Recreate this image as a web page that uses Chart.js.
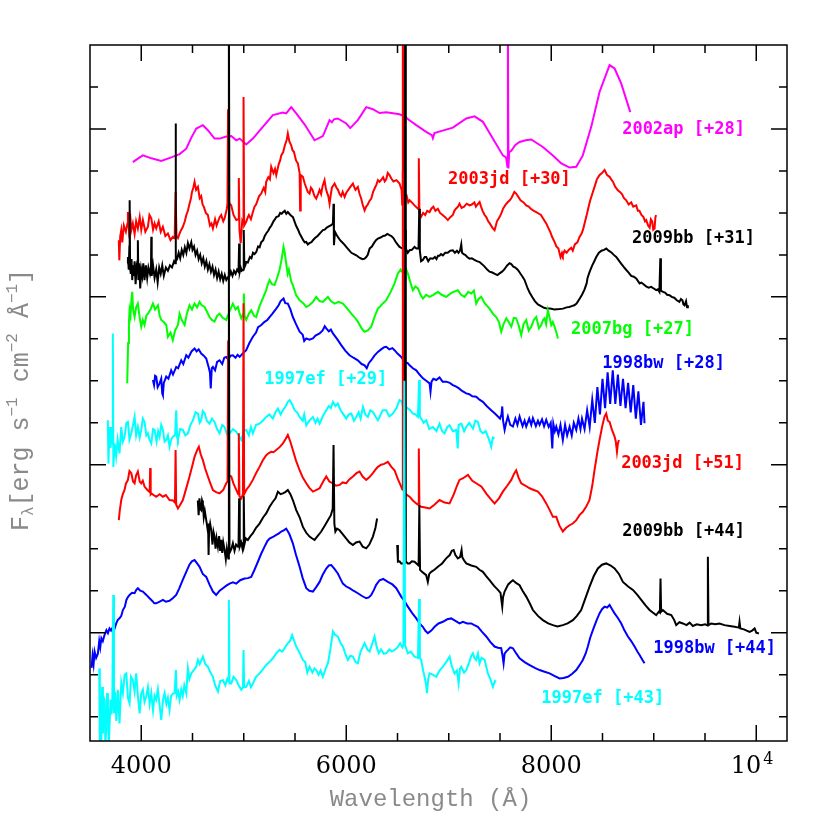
<!DOCTYPE html>
<html>
<head>
<meta charset="utf-8">
<script src="https://cdn.jsdelivr.net/npm/chart.js@4.4.1/dist/chart.umd.min.js"></script>
<style>
  html, body { margin: 0; padding: 0; background: #fff; }
  #wrap { width: 830px; height: 830px; }
</style>
</head>
<body>
<div id="wrap"><canvas id="spectra" width="830" height="830"></canvas></div>
<script>
// wavelength (A), flux (arbitrary units, offsets included)
const sn2002ap_28 = [[3918,11.21],[3970,11.30],[4016,11.37],[4100,11.30],[4195,11.24],[4300,11.33],[4374,11.40],[4439,11.53],[4490,11.80],[4537,12.01],[4601,12.09],[4650,11.97],[4715,11.77],[4764,11.77],[4830,11.82],[4878,11.83],[4927,11.73],[4960,11.77],[5024,11.63],[5089,11.77],[5186,12.05],[5284,12.33],[5381,12.39],[5414,12.37],[5463,12.52],[5512,12.37],[5593,12.11],[5691,11.73],[5772,11.83],[5837,12.21],[5860,12.16],[5880,12.23],[5918,12.25],[6000,12.13],[6039,12.02],[6113,12.21],[6195,12.52],[6260,12.47],[6325,12.38],[6390,12.40],[6520,12.35],[6569,12.30],[6620,12.20],[6683,12.09],[6780,11.93],[6835,11.85],[6845,11.78],[6860,11.90],[6940,11.96],[7040,12.03],[7171,12.25],[7252,12.30],[7333,12.17],[7430,11.77],[7528,11.37],[7560,11.32],[7572,11.10],[7577,14.5],[7582,11.06],[7590,11.45],[7610,11.48],[7650,11.62],[7691,11.69],[7750,11.73],[7805,11.75],[7918,11.57],[8016,11.37],[8098,11.18],[8179,11.08],[8244,11.10],[8308,11.37],[8390,12.05],[8471,12.88],[8569,13.52],[8618,13.44],[8683,13.08],[8771,12.40]];

const sn2003jd_30 = [[3781,9.35],[3786,8.87],[3795,9.45],[3805,9.59],[3815,9.30],[3830,9.70],[3850,9.55],[3865,9.75],[3870,10.02],[3880,9.60],[3895,9.85],[3903,9.59],[3918,9.75],[3935,9.50],[3950,9.80],[3967,9.63],[3985,9.90],[4000,9.60],[4016,9.83],[4040,9.55],[4065,9.67],[4080,9.95],[4098,9.87],[4115,9.60],[4130,9.75],[4146,9.63],[4170,9.80],[4190,9.55],[4211,9.67],[4235,9.45],[4260,9.51],[4285,9.35],[4308,9.43],[4326,9.40],[4335,10.50],[4344,9.45],[4358,9.40],[4380,9.55],[4406,9.67],[4425,9.80],[4440,9.95],[4455,10.05],[4471,10.22],[4485,10.35],[4495,10.50],[4508,10.60],[4520,10.74],[4535,10.55],[4553,10.62],[4570,10.35],[4585,10.40],[4598,10.20],[4610,10.15],[4630,10.00],[4650,9.95],[4670,9.70],[4685,9.75],[4699,9.63],[4720,9.85],[4735,9.70],[4748,9.79],[4765,9.90],[4780,9.95],[4800,9.80],[4813,9.87],[4835,10.10],[4841,10.22],[4847,12.47],[4853,10.25],[4878,10.18],[4900,9.95],[4927,9.83],[4946,9.85],[4952,10.83],[4958,9.60],[4970,9.28],[4985,9.80],[4993,9.75],[4998,12.76],[5004,9.70],[5024,9.79],[5040,9.90],[5050,9.95],[5070,9.85],[5089,10.02],[5105,10.15],[5120,10.20],[5135,10.30],[5150,10.40],[5171,10.46],[5185,10.55],[5195,10.60],[5210,10.50],[5219,10.74],[5240,10.85],[5255,10.80],[5268,11.10],[5290,10.95],[5305,11.05],[5317,10.90],[5340,11.15],[5355,11.25],[5366,11.37],[5385,11.45],[5400,11.60],[5420,11.75],[5430,11.89],[5445,11.70],[5463,11.61],[5475,11.50],[5490,11.45],[5510,11.25],[5528,11.18],[5545,10.95],[5550,10.06],[5556,10.90],[5577,10.86],[5595,10.70],[5610,10.60],[5625,10.50],[5642,10.46],[5655,10.60],[5670,10.55],[5690,10.40],[5707,10.34],[5725,10.45],[5740,10.55],[5755,10.45],[5770,10.65],[5788,10.78],[5800,10.60],[5810,10.50],[5825,10.40],[5837,10.22],[5850,10.45],[5860,10.60],[5886,10.70],[5905,10.60],[5920,10.55],[5935,10.45],[5950,10.40],[5965,10.50],[5984,10.38],[6000,10.48],[6020,10.55],[6040,10.62],[6065,10.70],[6080,10.60],[6090,10.55],[6113,10.62],[6130,10.45],[6145,10.35],[6160,10.20],[6179,10.06],[6195,10.15],[6210,10.20],[6225,10.28],[6244,10.34],[6262,10.50],[6280,10.60],[6295,10.68],[6309,10.78],[6325,10.74],[6345,10.80],[6360,10.85],[6375,10.75],[6390,10.80],[6405,10.95],[6422,10.90],[6440,10.82],[6460,10.75],[6490,10.78],[6520,10.70],[6540,10.55],[6546,10.20],[6552,15],[6558,10.30],[6575,10.35],[6590,10.40],[6605,10.25],[6618,10.30],[6640,10.25],[6666,10.18],[6700,10.10],[6708,11.30],[6714,10.00],[6731,9.91],[6750,10.00],[6770,9.95],[6790,10.05],[6813,10.02],[6830,10.10],[6850,10.15],[6870,10.05],[6894,10.10],[6915,10.00],[6940,9.95],[6965,9.90],[6991,9.83],[7015,9.90],[7040,9.95],[7055,10.05],[7070,10.10],[7090,10.15],[7105,10.22],[7125,10.12],[7150,10.15],[7175,10.22],[7203,10.18],[7225,10.20],[7250,10.25],[7265,10.15],[7280,10.20],[7301,10.26],[7315,10.15],[7330,10.05],[7350,9.95],[7366,9.90],[7385,9.80],[7400,9.75],[7425,9.65],[7447,9.59],[7460,9.70],[7470,9.80],[7496,9.90],[7515,10.00],[7530,10.10],[7555,10.20],[7577,10.26],[7595,10.30],[7610,10.35],[7625,10.42],[7640,10.50],[7658,10.46],[7680,10.38],[7700,10.30],[7730,10.25],[7756,10.18],[7780,10.15],[7800,10.10],[7830,10.05],[7854,10.02],[7880,9.98],[7900,9.95],[7925,9.85],[7951,9.75],[7970,9.65],[7990,9.55],[8010,9.42],[8032,9.31],[8050,9.20],[8070,9.15],[8090,8.95],[8105,9.05],[8113,8.99],[8130,9.10],[8150,9.05],[8170,9.12],[8195,9.17],[8210,9.10],[8230,9.25],[8255,9.30],[8276,9.43],[8295,9.50],[8310,9.60],[8325,9.75],[8341,9.90],[8360,10.10],[8380,10.30],[8400,10.45],[8422,10.62],[8445,10.80],[8470,10.90],[8495,10.95],[8520,11.02],[8535,10.95],[8545,10.90],[8569,10.86],[8585,10.80],[8600,10.75],[8625,10.62],[8650,10.54],[8670,10.50],[8690,10.45],[8710,10.35],[8732,10.30],[8755,10.20],[8780,10.25],[8800,10.15],[8829,10.18],[8845,10.05],[8860,10.05],[8880,9.95],[8900,9.90],[8915,9.80],[8927,9.83],[8945,9.70],[8960,9.65],[8972,9.85],[8985,9.80],[8995,9.60],[9008,9.63],[9016,9.90],[9024,9.95]];

const sn2009bb_31 = [[3863,8.80],[3870,8.95],[3878,8.65],[3884,9.20],[3887,10.30],[3891,8.70],[3898,8.55],[3905,8.90],[3912,8.40],[3920,8.75],[3928,8.50],[3935,8.85],[3945,8.30],[3955,8.70],[3963,8.60],[3967,9.35],[3972,8.40],[3980,8.80],[3990,8.20],[4000,8.65],[4010,8.50],[4020,8.80],[4032,8.40],[4045,8.75],[4058,8.45],[4070,8.70],[4085,8.55],[4095,8.70],[4098,9.43],[4102,8.50],[4115,8.75],[4130,8.45],[4146,8.65],[4160,8.35],[4175,8.70],[4190,8.55],[4205,8.75],[4220,8.50],[4240,8.70],[4260,8.62],[4280,8.75],[4300,8.70],[4320,8.85],[4331,8.80],[4335,12.13],[4339,8.85],[4350,8.90],[4365,9.05],[4380,8.92],[4395,9.12],[4410,9.00],[4425,9.18],[4440,9.05],[4455,9.28],[4470,9.15],[4488,9.30],[4500,9.12],[4515,9.20],[4530,9.00],[4545,9.10],[4560,8.90],[4575,9.00],[4590,8.80],[4605,8.92],[4620,8.72],[4635,8.85],[4650,8.65],[4665,8.78],[4680,8.60],[4695,8.72],[4710,8.52],[4725,8.65],[4740,8.45],[4755,8.60],[4770,8.42],[4785,8.55],[4800,8.38],[4815,8.52],[4830,8.40],[4849,8.48],[4855,15],[4861,8.50],[4875,8.60],[4890,8.50],[4905,8.62],[4920,8.55],[4935,8.65],[4949,8.60],[4955,9.27],[4961,8.60],[4970,8.70],[4980,8.62],[4994,8.65],[5000,9.59],[5006,8.70],[5015,8.75],[5024,8.83],[5040,8.82],[5060,8.95],[5075,8.92],[5090,9.05],[5105,9.02],[5122,9.07],[5140,9.20],[5155,9.18],[5170,9.30],[5190,9.35],[5205,9.45],[5219,9.51],[5240,9.58],[5255,9.65],[5270,9.70],[5290,9.80],[5305,9.85],[5317,9.90],[5340,9.92],[5355,10.00],[5370,9.98],[5385,10.02],[5400,10.05],[5415,9.98],[5430,10.02],[5455,9.95],[5480,9.90],[5495,9.80],[5510,9.70],[5530,9.60],[5545,9.51],[5565,9.42],[5580,9.35],[5595,9.30],[5610,9.31],[5625,9.25],[5640,9.28],[5660,9.30],[5675,9.35],[5695,9.40],[5720,9.45],[5745,9.52],[5772,9.59],[5790,9.60],[5810,9.65],[5830,9.68],[5853,9.71],[5870,9.75],[5876,10.22],[5880,9.23],[5890,9.55],[5905,9.48],[5918,9.43],[5940,9.35],[5960,9.30],[5980,9.25],[6000,9.19],[6025,9.12],[6050,9.05],[6075,9.02],[6098,8.99],[6120,8.95],[6140,8.92],[6160,8.90],[6179,8.91],[6195,8.95],[6210,9.00],[6228,9.15],[6250,9.20],[6270,9.28],[6290,9.35],[6309,9.39],[6340,9.42],[6360,9.45],[6380,9.46],[6400,9.50],[6422,9.47],[6440,9.45],[6460,9.40],[6480,9.32],[6500,9.25],[6520,9.19],[6550,9.15],[6569,9.15],[6575,15],[6581,9.15],[6600,9.05],[6618,9.11],[6640,9.12],[6666,9.19],[6685,9.15],[6705,9.15],[6712,10.10],[6718,9.10],[6730,8.85],[6747,8.88],[6765,8.95],[6780,8.95],[6800,8.85],[6820,8.92],[6845,8.91],[6865,8.95],[6880,8.90],[6895,8.98],[6910,8.98],[6925,9.02],[6943,8.99],[6965,9.05],[6990,9.05],[7015,9.10],[7040,9.11],[7060,9.05],[7080,9.10],[7095,9.05],[7110,9.10],[7122,9.25],[7130,9.05],[7145,9.02],[7160,9.00],[7180,8.95],[7203,8.91],[7225,8.92],[7250,8.88],[7275,8.85],[7301,8.83],[7325,8.78],[7350,8.72],[7375,8.65],[7398,8.60],[7425,8.58],[7450,8.55],[7475,8.52],[7496,8.56],[7520,8.60],[7540,8.65],[7555,8.70],[7570,8.75],[7593,8.80],[7610,8.78],[7630,8.72],[7650,8.70],[7675,8.64],[7700,8.55],[7720,8.48],[7740,8.40],[7755,8.30],[7770,8.20],[7790,8.10],[7816,7.99],[7840,7.90],[7870,7.82],[7900,7.78],[7930,7.74],[7960,7.72],[7990,7.72],[8030,7.70],[8081,7.71],[8115,7.72],[8150,7.75],[8175,7.76],[8200,7.78],[8225,7.80],[8247,7.84],[8275,7.95],[8300,8.05],[8325,8.18],[8345,8.32],[8354,8.45],[8375,8.60],[8400,8.75],[8420,8.85],[8439,8.95],[8465,9.05],[8490,9.10],[8515,9.12],[8537,9.15],[8560,9.10],[8590,9.05],[8610,9.00],[8634,8.95],[8655,8.88],[8680,8.80],[8705,8.72],[8732,8.64],[8755,8.58],[8780,8.50],[8805,8.48],[8829,8.44],[8845,8.38],[8862,8.32],[8880,8.34],[8900,8.30],[8925,8.25],[8950,8.22],[8975,8.24],[9000,8.20],[9024,8.16],[9040,8.18],[9055,8.12],[9064,8.92],[9070,8.15],[9090,8.12],[9110,8.10],[9130,8.05],[9154,8.04],[9175,8.00],[9200,7.98],[9225,7.92],[9250,7.88],[9265,7.95],[9280,7.92],[9290,7.82],[9300,7.80],[9315,7.90],[9325,7.75],[9333,7.80]];

const sn2007bg_27 = [[3863,5.94],[3872,6.90],[3880,7.40],[3886,7.68],[3895,7.55],[3905,7.95],[3912,8.12],[3920,7.70],[3935,7.52],[3950,7.75],[3967,7.84],[3985,7.50],[4000,7.29],[4015,7.45],[4032,7.33],[4050,7.55],[4065,7.60],[4090,7.70],[4114,7.84],[4135,7.70],[4163,7.80],[4180,7.55],[4195,7.45],[4220,7.40],[4244,7.33],[4260,7.05],[4285,7.15],[4308,6.97],[4330,7.20],[4358,7.33],[4374,7.60],[4395,7.45],[4423,7.33],[4445,7.60],[4471,7.80],[4495,7.70],[4520,7.84],[4545,7.75],[4569,7.88],[4590,7.80],[4618,7.76],[4640,7.65],[4666,7.52],[4690,7.45],[4715,7.41],[4740,7.55],[4764,7.60],[4795,7.50],[4829,7.45],[4860,7.65],[4894,7.84],[4920,7.70],[4943,7.76],[4960,7.60],[4976,7.49],[4995,7.60],[5001,8.08],[5008,7.55],[5024,7.45],[5050,7.60],[5073,7.68],[5100,7.55],[5122,7.52],[5150,7.75],[5171,7.88],[5200,8.05],[5219,8.16],[5235,8.30],[5252,8.40],[5275,8.30],[5301,8.28],[5325,8.45],[5349,8.64],[5370,8.90],[5388,9.19],[5400,9.05],[5414,8.80],[5428,8.55],[5440,8.65],[5463,8.37],[5479,8.28],[5510,8.05],[5545,7.92],[5580,7.85],[5610,7.76],[5640,7.80],[5675,7.88],[5707,8.00],[5740,7.90],[5772,7.88],[5800,7.95],[5821,8.00],[5850,7.90],[5886,7.84],[5925,7.88],[5967,7.84],[6010,7.72],[6049,7.60],[6080,7.52],[6113,7.41],[6150,7.25],[6179,7.17],[6210,7.20],[6244,7.29],[6280,7.55],[6309,7.72],[6325,7.76],[6360,7.85],[6390,7.92],[6430,8.10],[6471,8.32],[6504,8.56],[6530,8.65],[6560,8.55],[6585,8.65],[6601,8.56],[6625,8.35],[6650,8.16],[6675,8.25],[6699,8.20],[6725,8.05],[6748,7.96],[6780,8.05],[6813,8.00],[6850,8.05],[6894,8.12],[6930,8.05],[6975,8.00],[7030,8.10],[7089,8.16],[7120,8.05],[7154,8.00],[7190,8.12],[7219,8.08],[7245,8.15],[7268,7.84],[7290,7.95],[7317,8.00],[7350,7.85],[7398,7.72],[7430,7.60],[7463,7.52],[7490,7.40],[7512,7.17],[7535,7.35],[7561,7.49],[7585,7.40],[7610,7.29],[7635,7.50],[7658,7.49],[7685,7.30],[7707,7.09],[7730,7.35],[7756,7.45],[7780,7.20],[7805,7.29],[7830,7.45],[7854,7.52],[7880,7.25],[7902,7.33],[7920,7.45],[7935,7.49],[7950,7.35],[7967,7.68],[7985,7.50],[8000,7.33],[8015,7.40],[8032,7.29],[8050,7.15],[8065,7.01]];

const sn1998bw_28 = [[4114,6.02],[4125,5.90],[4135,6.12],[4146,6.10],[4160,5.85],[4179,5.94],[4195,6.05],[4205,5.70],[4211,5.66],[4220,5.95],[4244,6.10],[4265,6.05],[4292,6.25],[4310,6.15],[4341,6.33],[4360,6.30],[4390,6.49],[4410,6.40],[4439,6.61],[4460,6.55],[4490,6.70],[4520,6.77],[4540,6.70],[4560,6.75],[4585,6.65],[4610,6.60],[4634,6.53],[4655,6.35],[4670,6.20],[4678,5.82],[4688,6.30],[4699,6.33],[4720,6.25],[4740,6.45],[4764,6.49],[4790,6.40],[4810,6.55],[4829,6.57],[4850,6.50],[4870,6.60],[4894,6.61],[4920,6.55],[4940,6.62],[4960,6.57],[4990,6.65],[5024,6.73],[5055,6.90],[5089,7.05],[5120,7.15],[5140,7.28],[5171,7.33],[5200,7.40],[5230,7.45],[5252,7.52],[5280,7.60],[5317,7.72],[5340,7.80],[5360,7.90],[5388,7.96],[5405,7.85],[5430,7.84],[5455,7.70],[5479,7.52],[5510,7.35],[5545,7.17],[5575,7.10],[5590,6.95],[5610,7.01],[5640,6.98],[5675,7.01],[5700,7.08],[5740,7.13],[5770,7.20],[5790,7.30],[5805,7.25],[5830,7.18],[5850,7.22],[5870,7.13],[5910,7.00],[5951,6.85],[5990,6.72],[6032,6.61],[6070,6.55],[6113,6.49],[6150,6.40],[6179,6.37],[6200,6.30],[6220,6.42],[6244,6.49],[6275,6.60],[6309,6.69],[6340,6.75],[6370,6.80],[6390,6.81],[6420,6.75],[6450,6.78],[6471,6.73],[6500,6.65],[6536,6.57],[6570,6.45],[6600,6.42],[6618,6.37],[6650,6.30],[6683,6.25],[6715,6.15],[6748,6.06],[6780,6.00],[6813,5.94],[6822,5.74],[6832,5.98],[6850,6.05],[6878,6.02],[6910,6.08],[6940,5.98],[6975,5.98],[7010,5.95],[7040,5.90],[7073,5.86],[7100,5.82],[7130,5.76],[7171,5.70],[7200,5.68],[7230,5.63],[7268,5.62],[7300,5.55],[7333,5.50],[7370,5.40],[7414,5.30],[7450,5.22],[7480,5.15],[7500,5.10],[7515,5.20],[7522,5.39],[7530,5.05],[7545,4.83],[7560,5.00],[7577,5.15],[7600,4.95],[7626,4.91],[7650,5.10],[7670,4.95],[7691,5.15],[7720,4.92],[7740,5.05],[7756,4.91],[7785,5.10],[7805,4.95],[7821,5.11],[7850,4.92],[7870,5.05],[7886,4.95],[7910,5.08],[7930,4.92],[7951,5.07],[7975,4.90],[7995,5.00],[8010,4.39],[8020,4.98],[8035,4.80],[8049,4.91],[8070,4.72],[8090,4.95],[8113,4.59],[8135,4.95],[8155,4.70],[8179,4.91],[8200,4.70],[8220,5.00],[8244,4.83],[8265,5.10],[8285,4.85],[8300,5.10],[8325,4.85],[8350,5.30],[8375,4.90],[8400,5.55],[8425,5.00],[8450,5.85],[8475,5.20],[8500,6.05],[8525,5.35],[8550,6.20],[8575,5.45],[8600,6.25],[8625,5.45],[8650,6.15],[8675,5.40],[8700,6.05],[8725,5.35],[8750,5.95],[8775,5.25],[8800,5.90],[8825,5.10],[8850,5.75],[8875,4.95],[8900,5.50],[8910,4.99]];

const sn1997ef_29 = [[3674,5.06],[3680,4.03],[3690,4.90],[3700,4.40],[3710,4.90],[3718,4.50],[3723,7.13],[3728,3.95],[3740,4.51],[3755,4.20],[3770,4.60],[3788,4.27],[3805,4.90],[3820,4.55],[3837,4.66],[3855,5.00],[3870,5.02],[3885,4.60],[3903,4.75],[3920,4.95],[3935,5.14],[3950,4.70],[3967,4.90],[3985,4.65],[4000,4.83],[4015,5.10],[4032,5.02],[4050,4.70],[4065,4.75],[4080,4.60],[4098,4.51],[4115,4.85],[4130,4.83],[4150,4.55],[4165,4.80],[4179,4.67],[4195,4.95],[4211,4.83],[4228,4.55],[4244,4.59],[4260,4.70],[4276,4.43],[4292,4.60],[4308,4.67],[4330,4.70],[4341,5.30],[4350,4.65],[4358,4.59],[4380,4.85],[4406,4.83],[4430,4.70],[4455,4.75],[4480,4.95],[4504,5.06],[4530,5.25],[4553,5.22],[4570,5.00],[4585,5.06],[4600,5.28],[4618,5.22],[4640,5.05],[4666,4.98],[4690,5.10],[4715,5.02],[4740,4.85],[4764,4.75],[4790,4.95],[4813,4.90],[4840,4.70],[4862,4.75],[4895,4.85],[4927,4.79],[4950,4.70],[4976,4.59],[5000,4.80],[5024,4.83],[5050,4.70],[5070,4.90],[5089,4.75],[5120,4.95],[5154,4.98],[5185,5.05],[5219,5.14],[5250,5.20],[5284,5.10],[5310,5.25],[5333,5.34],[5360,5.20],[5382,5.30],[5410,5.40],[5430,5.50],[5447,5.54],[5470,5.45],[5496,5.30],[5520,5.25],[5545,5.14],[5575,5.05],[5590,5.20],[5610,4.94],[5640,5.05],[5675,5.14],[5700,5.00],[5720,5.10],[5740,4.98],[5770,5.15],[5805,5.30],[5830,5.40],[5850,5.35],[5870,5.50],[5895,5.40],[5918,5.46],[5945,5.30],[5967,5.22],[6000,5.10],[6025,5.20],[6049,5.22],[6075,5.05],[6098,5.14],[6120,5.25],[6140,5.10],[6163,5.38],[6185,5.20],[6211,5.14],[6235,5.30],[6260,5.26],[6285,5.15],[6309,5.06],[6325,5.14],[6355,5.30],[6390,5.30],[6420,5.15],[6455,5.22],[6490,5.35],[6520,5.54],[6545,5.50],[6558,5.30],[6566,7.2],[6574,5.40],[6601,5.34],[6625,5.30],[6650,5.22],[6675,5.20],[6699,5.14],[6711,6.02],[6718,5.15],[6731,5.10],[6755,5.00],[6780,5.06],[6810,4.85],[6845,4.90],[6880,4.80],[6910,4.98],[6935,4.80],[6959,4.75],[6985,4.90],[7008,4.94],[7040,4.80],[7073,4.83],[7088,4.39],[7096,4.95],[7122,4.98],[7150,4.80],[7171,4.90],[7200,5.00],[7236,4.86],[7260,5.05],[7284,5.02],[7310,4.80],[7333,4.75],[7360,4.80],[7382,4.67],[7400,4.55],[7414,4.43],[7430,4.65],[7447,4.63]];

const sn2003jd_51 = [[3781,2.68],[3790,2.90],[3805,3.16],[3820,3.30],[3837,3.40],[3850,3.55],[3870,3.64],[3885,3.85],[3903,3.80],[3920,3.60],[3935,3.56],[3950,3.75],[3967,3.84],[3985,3.60],[4000,3.56],[4015,3.62],[4032,3.48],[4060,3.40],[4082,3.35],[4087,3.92],[4092,3.30],[4098,3.32],[4120,3.28],[4146,3.24],[4180,3.30],[4211,3.24],[4240,3.28],[4276,3.16],[4310,3.15],[4329,3.10],[4335,4.35],[4341,3.05],[4358,2.96],[4380,3.05],[4406,3.16],[4440,3.45],[4471,3.72],[4495,3.95],[4520,4.19],[4545,4.35],[4562,4.43],[4580,4.25],[4601,4.11],[4625,3.90],[4650,3.72],[4675,3.55],[4699,3.40],[4730,3.35],[4764,3.32],[4800,3.40],[4829,3.56],[4842,3.60],[4848,6.96],[4854,3.75],[4878,3.72],[4900,3.55],[4927,3.40],[4946,3.30],[4952,4.75],[4958,3.25],[4976,3.20],[4992,3.30],[4998,7.85],[5004,3.30],[5024,3.40],[5055,3.50],[5089,3.64],[5120,3.80],[5154,3.95],[5185,4.10],[5219,4.23],[5245,4.28],[5268,4.31],[5290,4.30],[5317,4.35],[5350,4.42],[5382,4.51],[5410,4.62],[5430,4.71],[5455,4.55],[5479,4.35],[5510,4.10],[5545,3.87],[5575,3.70],[5610,3.56],[5640,3.45],[5675,3.36],[5710,3.40],[5740,3.44],[5775,3.60],[5805,3.72],[5835,3.60],[5870,3.56],[5900,3.50],[5935,3.52],[5965,3.58],[6000,3.56],[6030,3.65],[6065,3.72],[6100,3.80],[6130,3.84],[6160,3.72],[6195,3.64],[6225,3.70],[6260,3.80],[6290,3.90],[6309,3.95],[6340,4.00],[6370,4.02],[6406,4.07],[6440,3.95],[6471,3.87],[6505,3.65],[6536,3.48],[6546,3.42],[6552,11.0],[6558,3.38],[6580,3.30],[6618,3.24],[6650,3.15],[6683,3.08],[6702,3.05],[6708,4.39],[6714,3.02],[6731,3.00],[6770,2.98],[6813,2.96],[6860,3.05],[6910,3.16],[6960,3.10],[7008,3.08],[7050,3.30],[7080,3.50],[7105,3.64],[7140,3.68],[7187,3.76],[7230,3.62],[7268,3.56],[7320,3.48],[7370,3.30],[7410,3.18],[7447,3.08],[7490,3.20],[7528,3.36],[7570,3.50],[7610,3.64],[7640,3.80],[7658,3.87],[7680,3.70],[7707,3.56],[7750,3.50],[7789,3.44],[7830,3.40],[7870,3.36],[7910,3.25],[7951,3.08],[7985,2.92],[8016,2.76],[8049,2.76],[8080,2.55],[8113,2.41],[8145,2.50],[8179,2.56],[8210,2.60],[8244,2.68],[8275,2.80],[8308,2.88],[8340,3.00],[8357,3.08],[8373,3.16],[8400,3.50],[8422,3.87],[8450,4.30],[8471,4.59],[8500,4.95],[8520,5.15],[8536,5.22],[8552,5.05],[8569,5.02],[8590,4.85],[8618,4.67],[8630,4.55],[8641,4.31],[8650,4.50],[8660,4.59]];

const sn2009bb_44 = [[4552,3.15],[4560,2.80],[4568,3.20],[4575,2.95],[4585,2.92],[4593,3.15],[4601,3.08],[4610,2.75],[4620,2.90],[4634,2.68],[4645,2.50],[4652,2.60],[4657,1.85],[4662,2.45],[4672,2.60],[4683,2.44],[4695,2.10],[4705,2.40],[4715,2.29],[4725,2.00],[4735,2.25],[4748,2.05],[4760,2.30],[4770,1.95],[4780,2.21],[4790,1.90],[4800,2.15],[4813,1.97],[4825,1.75],[4835,2.00],[4849,1.77],[4855,8.6],[4861,1.90],[4880,2.00],[4894,2.13],[4910,1.95],[4925,2.10],[4943,2.05],[4949,2.05],[4955,3.20],[4961,2.05],[4975,2.15],[4988,2.00],[4994,2.13],[5000,3.25],[5006,2.10],[5020,2.25],[5040,2.21],[5065,2.30],[5089,2.37],[5120,2.50],[5154,2.60],[5190,2.75],[5219,2.84],[5252,3.00],[5284,3.12],[5310,3.20],[5333,3.36],[5360,3.30],[5382,3.32],[5405,3.35],[5430,3.40],[5455,3.30],[5479,3.16],[5512,2.92],[5545,2.75],[5577,2.52],[5610,2.38],[5642,2.29],[5665,2.25],[5691,2.21],[5720,2.30],[5756,2.41],[5790,2.55],[5821,2.68],[5850,2.80],[5868,2.95],[5876,4.47],[5884,2.60],[5894,2.41],[5910,2.48],[5935,2.44],[5965,2.35],[6000,2.24],[6030,2.15],[6065,2.09],[6095,2.15],[6130,2.17],[6160,2.05],[6195,2.01],[6225,2.10],[6260,2.29],[6285,2.50],[6301,2.72],[6400,null],[6497,2.09],[6504,1.69],[6520,1.70],[6536,1.65],[6569,1.65],[6575,9.6],[6581,1.70],[6600,1.65],[6618,1.65],[6640,1.70],[6666,1.69],[6706,1.60],[6713,3.04],[6720,1.50],[6739,1.45],[6780,1.37],[6796,1.21],[6810,1.40],[6829,1.45],[6860,1.50],[6894,1.57],[6935,1.65],[6975,1.77],[7010,1.85],[7030,1.95],[7048,1.97],[7065,1.85],[7089,1.77],[7110,1.80],[7125,1.97],[7132,1.80],[7150,1.72],[7171,1.65],[7220,1.60],[7268,1.57],[7300,1.50],[7333,1.45],[7365,1.35],[7398,1.25],[7440,1.12],[7480,1.02],[7505,0.95],[7515,0.75],[7522,0.62],[7530,0.85],[7545,0.98],[7580,1.15],[7610,1.22],[7626,1.25],[7660,1.18],[7691,1.13],[7720,1.00],[7756,0.86],[7790,0.70],[7821,0.54],[7870,0.40],[7918,0.30],[7970,0.22],[8016,0.18],[8060,0.15],[8113,0.18],[8160,0.22],[8211,0.30],[8250,0.40],[8292,0.54],[8330,0.80],[8373,1.09],[8415,1.35],[8455,1.53],[8495,1.62],[8536,1.65],[8580,1.60],[8618,1.53],[8660,1.40],[8699,1.21],[8750,1.10],[8797,1.02],[8840,0.90],[8878,0.78],[8920,0.65],[8959,0.54],[8990,0.48],[9024,0.42],[9050,0.50],[9060,0.48],[9066,1.29],[9072,0.50],[9089,0.54],[9130,0.45],[9171,0.42],[9200,0.30],[9219,0.18],[9250,0.25],[9284,0.22],[9320,0.18],[9350,0.24],[9382,0.16],[9420,0.20],[9463,0.18],[9500,0.20],[9522,0.18],[9528,1.81],[9534,0.18],[9560,0.22],[9600,0.20],[9642,0.22],[9690,0.18],[9740,0.16],[9790,0.14],[9830,0.12],[9837,0.26],[9845,0.10],[9880,0.08],[9935,0.02],[9960,0.05],[9984,0.10],[10000,0.00],[10026,-0.02]];

const sn1998bw_44 = [[3515,-0.84],[3525,-0.55],[3535,-0.75],[3545,-0.45],[3560,-0.60],[3577,-0.50],[3590,-0.20],[3600,-0.35],[3611,-0.13],[3625,-0.20],[3642,-0.05],[3660,0.06],[3675,-0.01],[3690,0.10],[3705,0.05],[3725,0.14],[3740,0.10],[3756,0.22],[3770,0.30],[3790,0.35],[3805,0.40],[3821,0.54],[3840,0.62],[3855,0.78],[3870,0.85],[3886,0.90],[3910,0.95],[3935,0.94],[3952,1.02],[3967,1.06],[3990,1.00],[4016,0.98],[4050,0.90],[4081,0.82],[4110,0.75],[4127,0.70],[4146,0.70],[4180,0.74],[4211,0.78],[4240,0.74],[4276,0.76],[4307,0.82],[4341,0.90],[4370,1.05],[4404,1.25],[4439,1.45],[4470,1.62],[4494,1.70],[4520,1.73],[4545,1.65],[4569,1.57],[4600,1.40],[4634,1.33],[4665,1.15],[4699,0.98],[4731,0.90],[4765,1.00],[4797,1.06],[4830,1.12],[4862,1.17],[4895,1.20],[4927,1.17],[4965,1.25],[5008,1.29],[5040,1.30],[5073,1.33],[5105,1.50],[5138,1.69],[5170,1.88],[5203,2.05],[5230,2.18],[5252,2.24],[5285,2.28],[5317,2.33],[5340,2.36],[5366,2.41],[5390,2.44],[5414,2.48],[5445,2.35],[5479,2.13],[5510,1.85],[5545,1.57],[5575,1.30],[5610,1.06],[5640,1.00],[5675,0.98],[5705,1.08],[5740,1.21],[5770,1.38],[5805,1.53],[5830,1.60],[5854,1.61],[5885,1.52],[5918,1.41],[5940,1.30],[5967,1.17],[6000,1.10],[6032,1.06],[6070,1.00],[6113,0.94],[6150,0.88],[6195,0.82],[6220,0.84],[6244,0.90],[6270,1.02],[6292,1.14],[6325,1.25],[6360,1.28],[6406,1.21],[6450,1.15],[6488,1.06],[6536,0.86],[6570,0.75],[6601,0.62],[6640,0.48],[6683,0.34],[6715,0.22],[6747,0.14],[6770,0.05],[6796,-0.01],[6830,0.05],[6862,0.14],[6900,0.22],[6943,0.26],[6985,0.32],[7024,0.34],[7065,0.28],[7105,0.22],[7138,0.26],[7180,0.22],[7219,0.22],[7250,0.18],[7284,0.14],[7325,0.02],[7366,-0.09],[7405,-0.22],[7447,-0.33],[7480,-0.36],[7512,-0.37],[7525,-0.55],[7535,-0.73],[7545,-0.50],[7560,-0.45],[7577,-0.41],[7600,-0.35],[7626,-0.37],[7660,-0.50],[7691,-0.61],[7740,-0.70],[7789,-0.77],[7840,-0.84],[7886,-0.89],[7935,-0.93],[7984,-0.97],[8030,-1.03],[8081,-1.09],[8120,-1.08],[8163,-1.05],[8205,-0.98],[8244,-0.89],[8275,-0.78],[8308,-0.65],[8335,-0.50],[8357,-0.33],[8380,-0.12],[8406,0.06],[8440,0.28],[8471,0.46],[8495,0.56],[8520,0.62],[8545,0.60],[8569,0.66],[8595,0.55],[8618,0.46],[8650,0.35],[8683,0.22],[8715,0.05],[8748,-0.09],[8780,-0.20],[8813,-0.33],[8840,-0.45],[8862,-0.53],[8890,-0.65],[8910,-0.73]];

const sn1997ef_43 = [[3590,-0.85],[3596,-2.70],[3603,-1.50],[3610,-2.70],[3618,-1.29],[3626,-2.40],[3635,-1.55],[3642,-1.60],[3650,-2.70],[3659,-2.24],[3667,-1.44],[3675,-1.80],[3683,-2.70],[3691,-2.20],[3700,-1.60],[3710,-1.95],[3718,-1.55],[3727,0.90],[3734,-1.92],[3745,-1.40],[3757,-2.10],[3772,-1.36],[3788,-2.16],[3805,-1.20],[3821,-1.44],[3838,-1.00],[3854,-0.97],[3870,-1.55],[3886,-1.68],[3900,-1.05],[3918,-1.13],[3935,-1.40],[3951,-0.97],[3967,-1.50],[3984,-1.92],[4000,-1.45],[4016,-1.36],[4032,-1.65],[4049,-1.52],[4065,-1.30],[4082,-1.70],[4098,-1.44],[4115,-1.85],[4130,-1.50],[4146,-1.60],[4162,-1.35],[4180,-1.75],[4195,-2.08],[4212,-1.60],[4228,-1.44],[4245,-1.70],[4260,-1.55],[4276,-1.84],[4292,-1.50],[4310,-1.45],[4325,-1.44],[4338,-0.89],[4346,-1.50],[4360,-1.40],[4374,-1.60],[4390,-1.35],[4405,-1.50],[4420,-1.25],[4439,-1.44],[4455,-0.85],[4470,-1.10],[4488,-0.97],[4510,-0.90],[4536,-0.81],[4553,-0.65],[4570,-0.75],[4601,-0.57],[4625,-0.75],[4650,-0.81],[4675,-0.95],[4699,-1.05],[4720,-1.25],[4748,-1.40],[4770,-1.15],[4797,-1.13],[4820,-1.25],[4840,-1.10],[4849,-1.15],[4855,0.78],[4861,-1.21],[4878,-1.21],[4900,-1.05],[4927,-1.13],[4950,-1.25],[4976,-1.36],[4992,-1.30],[4998,-0.41],[5004,-1.30],[5024,-1.29],[5050,-1.15],[5070,-1.30],[5089,-1.21],[5120,-1.05],[5154,-0.97],[5185,-0.88],[5219,-0.77],[5250,-0.70],[5284,-0.61],[5315,-0.50],[5349,-0.41],[5375,-0.45],[5398,-0.37],[5430,-0.25],[5450,-0.20],[5472,-0.06],[5490,-0.18],[5512,-0.33],[5545,-0.48],[5577,-0.65],[5600,-0.70],[5620,-0.95],[5642,-0.81],[5670,-0.95],[5690,-0.85],[5707,-0.89],[5730,-1.00],[5750,-0.90],[5772,-1.05],[5800,-0.85],[5821,-0.73],[5845,-0.40],[5870,0.03],[5890,-0.05],[5918,-0.09],[5945,-0.25],[5967,-0.33],[5990,-0.50],[6016,-0.65],[6040,-0.55],[6065,-0.57],[6090,-0.70],[6113,-0.73],[6140,-0.45],[6160,-0.35],[6179,-0.25],[6205,-0.40],[6228,-0.45],[6255,-0.25],[6276,-0.09],[6298,-0.35],[6318,-0.49],[6340,-0.40],[6365,-0.50],[6390,-0.49],[6420,-0.40],[6445,-0.45],[6471,-0.41],[6500,-0.35],[6526,-0.25],[6548,-0.35],[6558,-0.30],[6566,6.0],[6574,-0.30],[6601,-0.49],[6630,-0.45],[6666,-0.57],[6700,-0.60],[6710,0.80],[6718,-0.60],[6731,-0.65],[6750,-0.90],[6764,-1.05],[6780,-1.25],[6787,-1.44],[6800,-1.10],[6813,-0.97],[6845,-1.00],[6878,-1.05],[6910,-0.90],[6943,-0.81],[6975,-0.70],[7008,-0.57],[7030,-0.80],[7057,-0.97],[7080,-0.90],[7096,-1.21],[7110,-0.85],[7122,-0.81],[7150,-0.95],[7171,-0.89],[7200,-0.70],[7220,-0.55],[7236,-0.49],[7250,-0.60],[7268,-0.65],[7285,-0.50],[7301,-0.73],[7320,-0.60],[7350,-0.65],[7370,-0.85],[7382,-0.97],[7405,-1.10],[7431,-1.29],[7450,-1.15],[7463,-1.17]];

const names = ["2002ap [+28]", "2003jd [+30]", "2009bb [+31]", "2007bg [+27]", "1998bw [+28]",
               "1997ef [+29]", "2003jd [+51]", "2009bb [+44]", "1998bw [+44]", "1997ef [+43]"];
const series = [sn2002ap_28, sn2003jd_30, sn2009bb_31, sn2007bg_27, sn1998bw_28,
                sn1997ef_29, sn2003jd_51, sn2009bb_44, sn1998bw_44, sn1997ef_43];
const colors = ["#ff00ff", "#ff0000", "#000000", "#00ff00", "#0000ff",
                "#00ffff", "#ff0000", "#000000", "#0000ff", "#00ffff"];

const xTicks = [4000, 6000, 8000, 10000];

// where each name tag sits (wavelength, flux of the text centre)
const tagSpots = [[9291, 11.99], [7592, 10.80], [9388, 9.40], [8793, 7.21], [9096, 6.40],
                  [5800, 6.02], [9281, 4.02], [9291, 2.40], [9594, -0.39], [8502, -1.58]];

const frame = {
  id: "frame",
  afterDatasetsDraw(chart) {
    const { ctx, chartArea: a, scales: { x, y } } = chart;
    ctx.save();
    ctx.strokeStyle = "#000";
    ctx.lineWidth = 1.5;
    ctx.strokeRect(a.left, a.top, a.right - a.left, a.bottom - a.top);

    ctx.beginPath();
    for (let w = 4000; w <= 10000; w += 500) {
      const px = x.getPixelForValue(w);
      const len = w % 2000 === 0 ? 16 : 8;
      ctx.moveTo(px, a.bottom); ctx.lineTo(px, a.bottom - len);
      ctx.moveTo(px, a.top); ctx.lineTo(px, a.top + len);
    }
    for (let f = -2; f <= 13; f++) {
      const py = y.getPixelForValue(f);
      const len = f % 4 === 0 ? 16 : 8;
      ctx.moveTo(a.left, py); ctx.lineTo(a.left + len, py);
      ctx.moveTo(a.right, py); ctx.lineTo(a.right - len, py);
    }
    ctx.stroke();

    // tick labels
    ctx.fillStyle = "#000";
    ctx.textBaseline = "middle";
    ctx.font = "24px 'DejaVu Serif'";
    xTicks.forEach((w) => {
      const px = x.getPixelForValue(w);
      if (w === 10000) {
        ctx.textAlign = "right";
        ctx.fillText("10", px + 5, 767);
        ctx.font = "16px 'DejaVu Serif'";
        ctx.textAlign = "left";
        ctx.fillText("4", px + 7, 760);
        ctx.font = "24px 'DejaVu Serif'";
      } else {
        ctx.textAlign = "center";
        ctx.fillText(String(w), px, 767);
      }
    });

    // name tags
    ctx.font = "bold 17px 'DejaVu Sans Mono'";
    ctx.textAlign = "center";
    names.forEach((n, i) => {
      ctx.fillStyle = colors[i];
      ctx.fillText(n, x.getPixelForValue(tagSpots[i][0]), y.getPixelForValue(tagSpots[i][1]));
    });

    // axis titles
    ctx.fillStyle = "#8a8a8a";
    ctx.font = "24px 'Liberation Mono'";
    ctx.fillText("Wavelength (\u00c5)", (a.left + a.right) / 2 - 8, 800);

    const parts = [["F", 0], ["\u03bb", 1], ["[erg s", 0], ["\u22121", -1], [" cm", 0],
                   ["\u22122", -1], [" \u00c5", 0], ["\u22121", -1], ["]", 0]];
    const big = "25px 'Liberation Mono'", small = "16px 'Liberation Mono'";
    let total = 0;
    parts.forEach((p) => { ctx.font = p[1] ? small : big; total += ctx.measureText(p[0]).width; });
    ctx.translate(21, 400);
    ctx.rotate(-Math.PI / 2);
    ctx.textAlign = "left";
    let cx = -total / 2;
    parts.forEach((p) => {
      ctx.font = p[1] ? small : big;
      ctx.fillText(p[0], cx, p[1] * 8);
      cx += ctx.measureText(p[0]).width;
    });
    ctx.restore();
  },
};

new Chart(document.getElementById("spectra"), {
  type: "line",
  data: {
    datasets: series.map((s, i) => ({
      label: names[i],
      data: s.map((p) => ({ x: p[0], y: p[1] })),
      borderColor: colors[i],
      borderWidth: 2,
      pointRadius: 0,
      tension: 0,
      spanGaps: false,
      order: series.length - i,
    })),
  },
  options: {
    responsive: false,
    animation: false,
    events: [],
    layout: { padding: { left: 90, right: 43, top: 45, bottom: 89 } },
    scales: {
      x: { type: "linear", min: 3500, max: 10300, display: false },
      y: { type: "linear", min: -2.58, max: 14, display: false },
    },
    plugins: { legend: { display: false }, tooltip: { enabled: false } },
  },
  plugins: [frame],
});
</script>
</body>
</html>
